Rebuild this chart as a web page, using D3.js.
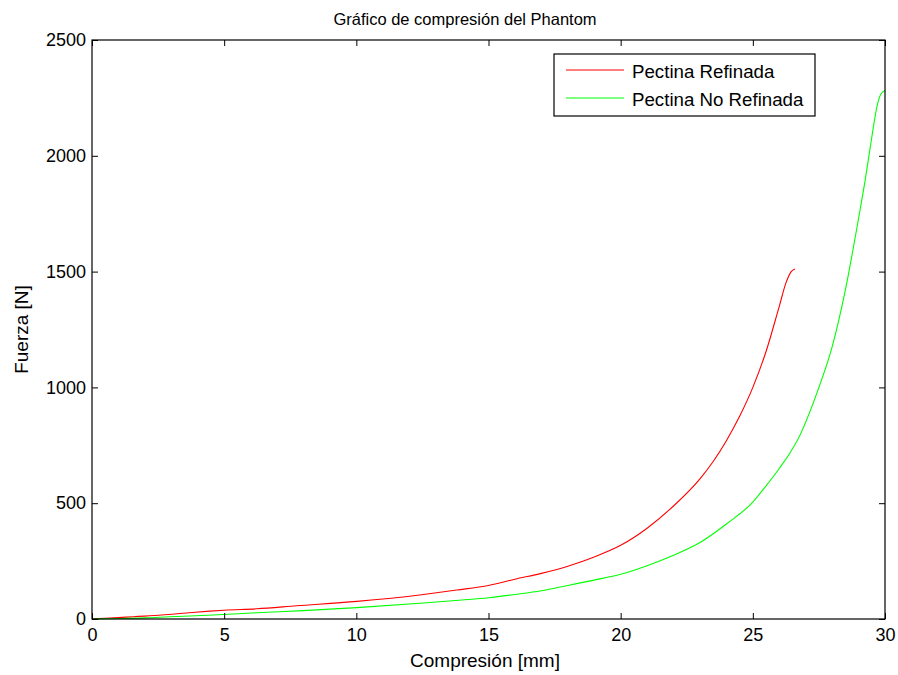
<!DOCTYPE html>
<html>
<head>
<meta charset="utf-8">
<script src="https://cdn.jsdelivr.net/npm/d3@7"></script>
<style>
  html, body { margin: 0; padding: 0; background: #fff; }
  svg { display: block; font-family: "Liberation Sans", Arial, sans-serif; }
</style>
</head>
<body>
<svg id="chart" width="898" height="675"></svg>
<script>
// ---- Data ----
const seriesNames = ["Pectina Refinada", "Pectina No Refinada"];
const seriesColors = ["#ff0000", "#00ff00"];

const refinadaX = [0, 0.5, 1.0, 1.57, 2.64, 3.58, 4.46, 5.0, 6.23, 7.74, 10.02, 12.54, 13.8, 15.0, 16.0, 17.0, 18.0, 19.0, 20.0, 21.0, 22.0, 23.0, 23.5, 24.0, 24.5, 25.0, 25.5, 26.0, 26.25, 26.45, 26.6];
const refinadaY = [0, 3, 6, 10, 17, 26, 34, 38, 44, 57, 76, 106, 125, 145, 172, 197, 228, 268, 318, 392, 488, 605, 680, 770, 875, 1000, 1155, 1350, 1450, 1500, 1511];

const noRefinadaX = [0, 1.0, 2.0, 2.95, 4.58, 6.23, 7.99, 10.02, 12.54, 14.0, 15.0, 16.0, 17.0, 18.0, 19.0, 20.0, 21.0, 22.0, 23.0, 24.0, 25.0, 25.5, 26.0, 26.41, 26.79, 27.0, 27.5, 28.0, 28.5, 29.0, 29.25, 29.5, 29.7, 29.85, 30];
const noRefinadaY = [0, 2, 5, 10, 17, 27, 36, 49, 69, 82, 92, 106, 122, 145, 168, 193, 230, 275, 330, 410, 505, 575, 650, 718, 795, 850, 1000, 1175, 1420, 1730, 1895, 2080, 2215, 2268, 2282];

const xTicks = [0, 5, 10, 15, 20, 25, 30];
const yTicks = [0, 500, 1000, 1500, 2000, 2500];

const titleText = "Gráfico de compresión del Phantom";
const xLabelText = "Compresión [mm]";
const yLabelText = "Fuerza [N]";

// ---- Layout ----
const L = 92, R = 885, T = 40, B = 619;
const svg = d3.select("#chart");

const x = d3.scaleLinear().domain([0, 30]).range([L, R]);
const y = d3.scaleLinear().domain([0, 2500]).range([B, T]);

const fsTick = 18;
const fsLabel = 19;
const fsLegend = 18.7;

// plot background
svg.append("rect").attr("x", L).attr("y", T).attr("width", R - L).attr("height", B - T)
  .attr("fill", "#fff");

// series
const series = [
  d3.zip(refinadaX, refinadaY),
  d3.zip(noRefinadaX, noRefinadaY)
];
const line = d3.line().x(d => x(d[0])).y(d => y(d[1])).curve(d3.curveMonotoneX);
series.forEach((s, i) => {
  svg.append("path").datum(s).attr("d", line)
    .attr("fill", "none").attr("stroke", seriesColors[i]).attr("stroke-width", 1.1);
});

// axes (MATLAB style: inward ticks on all four sides)
const tk = 6;
const axB = svg.append("g").attr("transform", `translate(0,${B})`)
  .call(d3.axisBottom(x).tickValues(xTicks).tickSizeInner(-tk).tickSizeOuter(0).tickPadding(9).tickFormat(d3.format("d")));
const axT = svg.append("g").attr("transform", `translate(0,${T})`)
  .call(d3.axisTop(x).tickValues(xTicks).tickSizeInner(-tk).tickSizeOuter(0).tickFormat(""));
const axL = svg.append("g").attr("transform", `translate(${L},0)`)
  .call(d3.axisLeft(y).tickValues(yTicks).tickSizeInner(-tk).tickSizeOuter(0).tickPadding(6).tickFormat(d3.format("d")));
const axR = svg.append("g").attr("transform", `translate(${R},0)`)
  .call(d3.axisRight(y).tickValues(yTicks).tickSizeInner(-tk).tickSizeOuter(0).tickFormat(""));

[axB, axT, axL, axR].forEach(a => {
  a.select(".domain").remove();
  a.selectAll("line").attr("stroke", "#000");
  a.selectAll("text").attr("fill", "#000").style("font-size", fsTick + "px")
    .style("font-family", '"Liberation Sans", Arial, sans-serif');
});

// box
svg.append("rect").attr("x", L).attr("y", T).attr("width", R - L).attr("height", B - T)
  .attr("fill", "none").attr("stroke", "#000").attr("stroke-width", 1.2);

// title & labels
svg.append("text").attr("x", 465).attr("y", 25).attr("text-anchor", "middle")
  .style("font-size", "16.5px").text(titleText);
svg.append("text").attr("x", 485).attr("y", 667).attr("text-anchor", "middle")
  .style("font-size", fsLabel + "px").text(xLabelText);
svg.append("text").attr("transform", `translate(28,${(T + B) / 2}) rotate(-90)`)
  .attr("text-anchor", "middle").style("font-size", fsLabel + "px").text(yLabelText);

// legend
const lg = svg.append("g");
lg.append("rect").attr("x", 554).attr("y", 54).attr("width", 261).attr("height", 62)
  .attr("fill", "#fff").attr("stroke", "#000").attr("stroke-width", 1.2);
seriesNames.forEach((name, i) => {
  const yy = 70 + i * 28;
  lg.append("line").attr("x1", 566).attr("x2", 624).attr("y1", yy).attr("y2", yy)
    .attr("stroke", seriesColors[i]).attr("stroke-width", 1.1);
  lg.append("text").attr("x", 632).attr("y", yy + 7.5).style("font-size", fsLegend + "px").text(name);
});
</script>
</body>
</html>
